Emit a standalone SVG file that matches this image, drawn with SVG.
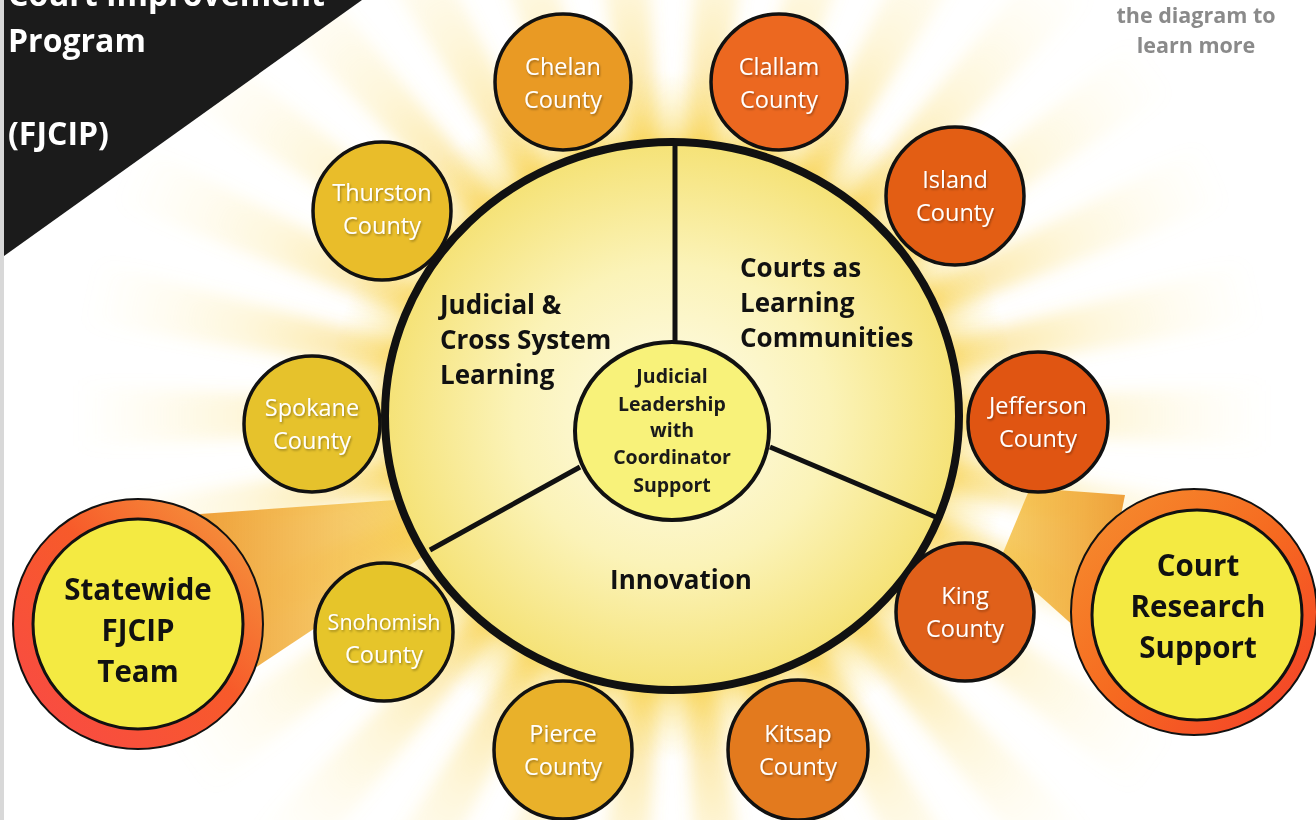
<svg xmlns="http://www.w3.org/2000/svg" width="1316" height="820" viewBox="0 0 1316 820">
<defs>
<style>
.cty{font-family:"Open Sans","Liberation Sans",sans-serif;font-size:23.5px;fill:#fff;text-anchor:middle;filter:url(#sh)}
.ring{stroke:#111;stroke-width:3.5}
.lbl{font-family:"Open Sans","Liberation Sans",sans-serif;font-weight:bold;font-size:26px;fill:#111}
.ctr{font-family:"Open Sans","Liberation Sans",sans-serif;font-weight:bold;font-size:19.5px;fill:#1a1a1a;text-anchor:middle}
.big{font-family:"Open Sans","Liberation Sans",sans-serif;font-weight:bold;font-size:29.5px;fill:#111;text-anchor:middle}
.ttl{font-family:"Open Sans","Liberation Sans",sans-serif;font-weight:bold;font-size:32px;fill:#fff}
.hint{font-family:"Open Sans","Liberation Sans",sans-serif;font-weight:bold;font-size:21.5px;fill:#8a8a8a;text-anchor:middle}
</style>
<filter id="sh" x="-20%" y="-20%" width="140%" height="150%"><feDropShadow dx="1" dy="1.5" stdDeviation="1" flood-color="#000" flood-opacity="0.35"/></filter>
<filter id="blur" x="-20%" y="-20%" width="140%" height="140%"><feGaussianBlur stdDeviation="8"/></filter>
<radialGradient id="rayG" gradientUnits="userSpaceOnUse" cx="672" cy="416" r="600">
<stop offset="0.45" stop-color="#F7C52E" stop-opacity="0.55"/>
<stop offset="0.72" stop-color="#F9D75A" stop-opacity="0.22"/>
<stop offset="1" stop-color="#FCEAA0" stop-opacity="0"/>
</radialGradient>
<radialGradient id="glow" gradientUnits="userSpaceOnUse" cx="672" cy="416" r="345">
<stop offset="0.72" stop-color="#F6CB30" stop-opacity="0.95"/>
<stop offset="0.84" stop-color="#F8D550" stop-opacity="0.45"/>
<stop offset="1" stop-color="#FCE88A" stop-opacity="0"/>
</radialGradient>
<radialGradient id="main" cx="0.5" cy="0.5" r="0.5">
<stop offset="0" stop-color="#FEFCEC"/>
<stop offset="0.55" stop-color="#FBF3B8"/>
<stop offset="1" stop-color="#F5E276"/>
</radialGradient>
<linearGradient id="ringL" x1="0" y1="1" x2="1" y2="0">
<stop offset="0" stop-color="#F94848"/>
<stop offset="0.55" stop-color="#F75A2A"/>
<stop offset="1" stop-color="#F4A040"/>
</linearGradient>
<linearGradient id="ringR" x1="0" y1="0" x2="1" y2="1">
<stop offset="0" stop-color="#F59030"/>
<stop offset="0.5" stop-color="#F66A20"/>
<stop offset="1" stop-color="#F43C2A"/>
</linearGradient>
<linearGradient id="beamL" x1="0" y1="0" x2="1" y2="0">
<stop offset="0" stop-color="#EFA03A"/>
<stop offset="1" stop-color="#F6D050" stop-opacity="0.7"/>
</linearGradient>
<linearGradient id="beamR" x1="1" y1="0" x2="0" y2="0">
<stop offset="0" stop-color="#EFA03A"/>
<stop offset="1" stop-color="#F4C040" stop-opacity="0.8"/>
</linearGradient>
<path id="ray" d="M672,416 L1262,385 L1262,447 Z"/>
</defs>
<rect width="1316" height="820" fill="#fff"/>
<rect x="0" y="0" width="4" height="820" fill="#d8d8d8"/>

<g id="sunburst">
<g filter="url(#blur)" fill="url(#rayG)">
<use href="#ray" transform="rotate(0 672 416)"/>
<use href="#ray" transform="rotate(12 672 416)"/>
<use href="#ray" transform="rotate(24 672 416)"/>
<use href="#ray" transform="rotate(36 672 416)"/>
<use href="#ray" transform="rotate(48 672 416)"/>
<use href="#ray" transform="rotate(60 672 416)"/>
<use href="#ray" transform="rotate(72 672 416)"/>
<use href="#ray" transform="rotate(84 672 416)"/>
<use href="#ray" transform="rotate(96 672 416)"/>
<use href="#ray" transform="rotate(108 672 416)"/>
<use href="#ray" transform="rotate(120 672 416)"/>
<use href="#ray" transform="rotate(132 672 416)"/>
<use href="#ray" transform="rotate(144 672 416)"/>
<use href="#ray" transform="rotate(156 672 416)"/>
<use href="#ray" transform="rotate(168 672 416)"/>
<use href="#ray" transform="rotate(180 672 416)"/>
<use href="#ray" transform="rotate(192 672 416)"/>
<use href="#ray" transform="rotate(204 672 416)"/>
<use href="#ray" transform="rotate(216 672 416)"/>
<use href="#ray" transform="rotate(228 672 416)"/>
<use href="#ray" transform="rotate(240 672 416)"/>
<use href="#ray" transform="rotate(252 672 416)"/>
<use href="#ray" transform="rotate(264 672 416)"/>
<use href="#ray" transform="rotate(276 672 416)"/>
<use href="#ray" transform="rotate(288 672 416)"/>
<use href="#ray" transform="rotate(300 672 416)"/>
<use href="#ray" transform="rotate(312 672 416)"/>
<use href="#ray" transform="rotate(324 672 416)"/>
<use href="#ray" transform="rotate(336 672 416)"/>
<use href="#ray" transform="rotate(348 672 416)"/>
</g>
<circle cx="672" cy="416" r="345" fill="url(#glow)"/>
</g>

<g id="beams">
<polygon points="200,514 395,500 440,545 255,668" fill="url(#beamL)"/>
<polygon points="1125,495 1030,488 1000,560 1095,645" fill="url(#beamR)"/>
</g>

<g id="title">
<polygon points="4,0 362,0 4,256" fill="#1b1b1b"/>
<text class="ttl" x="8" y="6">Court Improvement</text>
<text class="ttl" x="8" y="52">Program</text>
<text class="ttl" x="8" y="145">(FJCIP)</text>
</g>

<g id="hint">
<text class="hint" x="1196" y="23">the diagram to</text>
<text class="hint" x="1196" y="53">learn more</text>
</g>

<g id="main-circle">
<ellipse cx="672" cy="416" rx="287" ry="274" fill="url(#main)" stroke="#111" stroke-width="8"/>
</g>

<g id="connectors" stroke="#111" stroke-width="5" fill="none">
<line x1="675" y1="146" x2="675" y2="345"/>
<line x1="430" y1="550" x2="580" y2="467"/>
<line x1="770" y1="447" x2="938" y2="518"/>
</g>

<g id="seg-judicial"><text class="lbl" x="440" y="314">Judicial &amp;</text><text class="lbl" x="440" y="349">Cross System</text><text class="lbl" x="440" y="384">Learning</text></g>
<g id="seg-courts"><text class="lbl" x="740" y="277">Courts as</text><text class="lbl" x="740" y="312">Learning</text><text class="lbl" x="740" y="347">Communities</text></g>
<g id="seg-innovation"><text class="lbl" x="681" y="589" text-anchor="middle">Innovation</text></g>

<g id="center">
<ellipse cx="672" cy="431" rx="97" ry="89" fill="#F8F27A" stroke="#111" stroke-width="4"/>
<text class="ctr" x="672" y="383">Judicial</text>
<text class="ctr" x="672" y="411">Leadership</text>
<text class="ctr" x="672" y="437">with</text>
<text class="ctr" x="672" y="464">Coordinator</text>
<text class="ctr" x="672" y="492">Support</text>
</g>

<g id="chelan"><circle class="ring" cx="563" cy="82" r="68" fill="#E99A24"/><text class="cty" x="563" y="75">Chelan</text><text class="cty" x="563" y="108">County</text></g>
<g id="clallam"><circle class="ring" cx="779" cy="82" r="68" fill="#EC6820"/><text class="cty" x="779" y="75">Clallam</text><text class="cty" x="779" y="108">County</text></g>
<g id="island"><circle class="ring" cx="955" cy="196" r="69" fill="#E35E14"/><text class="cty" x="955" y="188">Island</text><text class="cty" x="955" y="221">County</text></g>
<g id="thurston"><circle class="ring" cx="382" cy="211" r="69" fill="#E9BD2A"/><text class="cty" x="382" y="201">Thurston</text><text class="cty" x="382" y="234">County</text></g>
<g id="spokane"><circle class="ring" cx="312" cy="424" r="68" fill="#E6C22C"/><text class="cty" x="312" y="416">Spokane</text><text class="cty" x="312" y="449">County</text></g>
<g id="jefferson"><circle class="ring" cx="1038" cy="422" r="70" fill="#E05512"/><text class="cty" x="1038" y="414">Jefferson</text><text class="cty" x="1038" y="447">County</text></g>
<g id="snohomish"><circle class="ring" cx="384" cy="632" r="69" fill="#E6C52A"/><text class="cty" x="384" y="630" style="font-size:21.5px">Snohomish</text><text class="cty" x="384" y="663">County</text></g>
<g id="king"><circle class="ring" cx="965" cy="612" r="69" fill="#E0601A"/><text class="cty" x="965" y="604">King</text><text class="cty" x="965" y="637">County</text></g>
<g id="pierce"><circle class="ring" cx="563" cy="750" r="69" fill="#E9B12A"/><text class="cty" x="563" y="742">Pierce</text><text class="cty" x="563" y="775">County</text></g>
<g id="kitsap"><circle class="ring" cx="798" cy="750" r="70" fill="#E37A1E"/><text class="cty" x="798" y="742">Kitsap</text><text class="cty" x="798" y="775">County</text></g>

<g id="statewide">
<circle cx="138" cy="624" r="125" fill="url(#ringL)" stroke="#111" stroke-width="2"/>
<circle cx="138" cy="624" r="105" fill="#F4EA42" stroke="#111" stroke-width="3"/>
<text class="big" x="138" y="600">Statewide</text>
<text class="big" x="138" y="641">FJCIP</text>
<text class="big" x="138" y="682">Team</text>
</g>

<g id="research">
<circle cx="1194" cy="612" r="123" fill="url(#ringR)" stroke="#111" stroke-width="2"/>
<circle cx="1197" cy="615" r="105" fill="#F4EA42" stroke="#111" stroke-width="3"/>
<text class="big" x="1198" y="576">Court</text>
<text class="big" x="1198" y="617">Research</text>
<text class="big" x="1198" y="658">Support</text>
</g>
</svg>
